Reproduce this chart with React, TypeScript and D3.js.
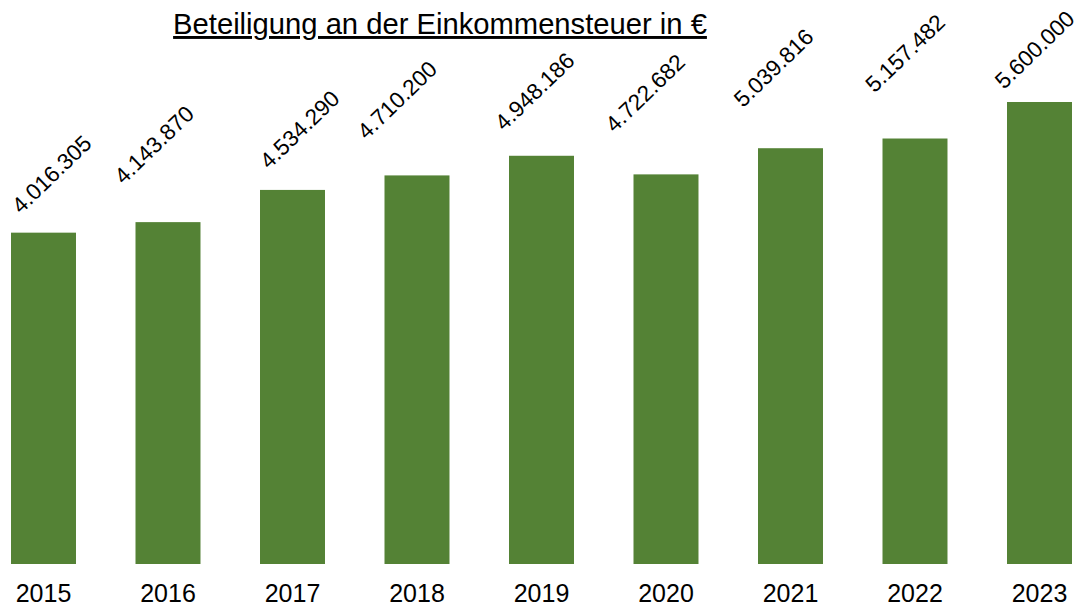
import React from 'react';
import * as d3 from 'd3';

const years = ['2015', '2016', '2017', '2018', '2019', '2020', '2021', '2022', '2023'];
const values = [4016305, 4143870, 4534290, 4710200, 4948186, 4722682, 5039816, 5157482, 5600000];
const title = 'Beteiligung an der Einkommensteuer in €';

// labels were hand-placed in the original, nudge them relative to bar top-left
const labelShift: [number, number][] = [
  [10, -18], [-12, -37], [9, -20], [-18, -35], [-5, -24],
  [-19, -41], [-15, -40], [-8, -45], [-3, -12],
];

const width = 1080;
const height = 606;
const barColor = '#548235';

const fmt = (v: number) => d3.format(',')(v).replace(/,/g, '.');

export default function App() {
  const step = 124.5;
  const x = d3.scaleBand().domain(years)
    .range([11 - step * 0.5, 11 - step * 0.5 + step * (9 - 0.478 + 1)])
    .paddingInner(0.478).paddingOuter(0.5);
  const y = d3.scaleLinear().domain([0, 5600000]).range([564, 102]);

  return (
    <svg width={width} height={height} style={{ position: 'absolute', left: 0, top: 0 }}
      fontFamily="'Liberation Sans', Arial, sans-serif">
      <rect width={width} height={height} fill="#fff" />
      <text x={440} y={34} textAnchor="middle" fontSize={29.2} textDecoration="underline" fill="#000">{title}</text>
      {years.map((yr, i) => {
        const bx = x(yr)!;
        const by = y(values[i]);
        const [dx, dy] = labelShift[i];
        return (
          <g key={yr}>
            <rect x={bx} y={by} width={x.bandwidth()} height={y(0) - by} fill={barColor} />
            <text transform={`translate(${bx + dx},${by + dy}) rotate(-44)`} fontSize={22.5} fill="#000">
              {fmt(values[i])}
            </text>
            <text x={bx + x.bandwidth() / 2} y={602} textAnchor="middle" fontSize={25} fill="#000">{yr}</text>
          </g>
        );
      })}
    </svg>
  );
}
